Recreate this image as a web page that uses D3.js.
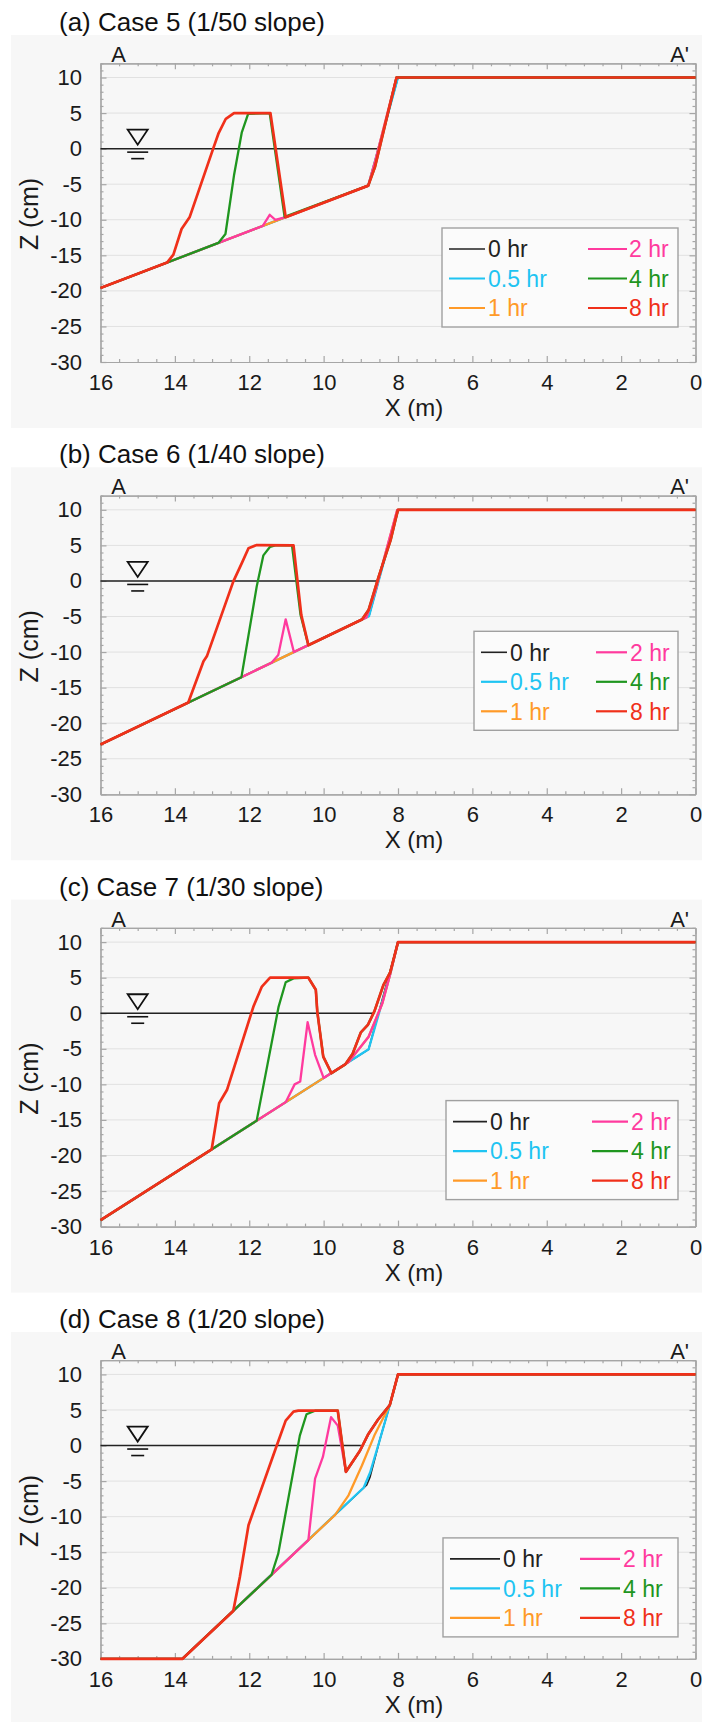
<!DOCTYPE html>
<html>
<head>
<meta charset="utf-8">
<script src="https://cdn.jsdelivr.net/npm/d3@7"></script>
<style>
body { margin: 0; background: #ffffff; }
text { font-family: "Liberation Sans", Arial, Helvetica, sans-serif; }
</style>
</head>
<body>
<div id="container"></div>
<script>
//tick labels
var xTicks = [16, 14, 12, 10, 8, 6, 4, 2, 0];
var zTicks = [-30, -25, -20, -15, -10, -5, 0, 5, 10];

//panel titles + legend labels
var panelTitles = ["(a) Case 5 (1/50 slope)", "(b) Case 6 (1/40 slope)", "(c) Case 7 (1/30 slope)", "(d) Case 8 (1/20 slope)"];
var hourLabels = ["0 hr", "0.5 hr", "1 hr", "2 hr", "4 hr", "8 hr"];

//profiles [x (m), z (cm)]
//case 5 (1/50 slope)
var case5_0hr  = [[16,-19.6],[8.8,-5.2],[8.0,10],[0,10]];
var case5_05hr = [[16,-19.6],[8.8,-5.2],[8.0,10],[0,10]];
var case5_1hr  = [[16,-19.6],[8.8,-5.2],[8.6,-1.5],[8.04,10],[0,10]];
var case5_2hr  = [[16,-19.6],[11.64,-10.88],[11.45,-9.3],[11.3,-10.0],[11.02,-9.64],[8.8,-5.2],[8.6,-1.5],[8.04,10],[0,10]];
var case5_4hr  = [[16,-19.6],[12.83,-13.26],[12.64,-12.0],[12.41,-3.75],[12.2,2.3],[12.03,4.9],[11.45,5.0],[11.05,-9.6],[8.8,-5.2],[8.62,-2.6],[8.04,10],[0,10]];
var case5_8hr  = [[16,-19.6],[14.21,-16.02],[14.04,-14.9],[13.82,-11.3],[13.6,-9.6],[12.97,0],[12.83,2.1],[12.63,4.2],[12.41,5.0],[11.43,5.0],[11.02,-9.64],[8.8,-5.2],[8.62,-2.6],[8.04,10],[0,10]];

//case 6 (1/40 slope)
var case6_0hr  = [[16,-23],[8.78,-4.95],[8.0,10],[0,10]];
var case6_05hr = [[16,-23],[8.78,-4.95],[8.0,10],[0,10]];
var case6_1hr  = [[16,-23],[8.85,-5.12],[8.6,-1.2],[8.02,10],[0,10]];
var case6_2hr  = [[16,-23],[11.4,-11.5],[11.22,-10.4],[11.02,-5.4],[10.8,-10.0],[8.85,-5.12],[8.6,-1.2],[8.02,10],[0,10]];
var case6_4hr  = [[16,-23],[12.21,-13.53],[11.8,-0.8],[11.62,3.6],[11.44,4.8],[11.3,5.0],[10.85,5.0],[10.62,-4.8],[10.41,-9.03],[8.97,-5.43],[8.79,-4.07],[8.52,0.6],[8.2,5.7],[8.0,10],[0,10]];
var case6_8hr  = [[16,-23],[13.64,-17.1],[13.23,-11.3],[13.14,-10.6],[12.43,-0.1],[12.2,2.5],[12.02,4.6],[11.8,5.05],[10.81,5.0],[10.6,-4.8],[10.41,-9.03],[8.97,-5.43],[8.79,-4.07],[8.52,0.6],[8.2,5.7],[8.07,8.55],[8.0,10],[0,10]];

//case 7 (1/30 slope)
var case7_0hr  = [[16,-29.1],[8.79,-5.07],[8.0,10],[0,10]];
var case7_05hr = [[16,-29.1],[8.79,-5.07],[8.21,5.5],[8.0,10],[0,10]];
var case7_1hr  = [[16,-29.1],[9.33,-6.87],[8.79,-3.3],[8.42,1.4],[8.21,5.5],[8.0,10],[0,10]];
var case7_2hr  = [[16,-29.1],[11.02,-12.5],[10.78,-10.0],[10.63,-9.6],[10.43,-1.26],[10.23,-5.85],[10.0,-9.1],[9.33,-6.87],[8.79,-3.3],[8.42,1.4],[8.21,5.5],[8.0,10],[0,10]];
var case7_4hr  = [[16,-29.1],[11.8,-15.1],[11.21,0.94],[11.02,4.36],[10.81,4.9],[10.41,5.0],[10.21,3.3],[10.17,0.2],[10.01,-6.1],[9.79,-8.43],[9.42,-7.2],[9.22,-5.7],[9.0,-2.7],[8.81,-1.64],[8.63,0.33],[8.39,4.0],[8.21,5.76],[8.0,10],[0,10]];
var case7_8hr  = [[16,-29.1],[13.01,-19.13],[12.81,-12.65],[12.6,-10.8],[11.89,0.9],[11.66,3.75],[11.44,5.0],[10.41,5.0],[10.21,3.3],[10.17,0.2],[10.01,-6.1],[9.79,-8.43],[9.42,-7.2],[9.22,-5.7],[9.0,-2.7],[8.81,-1.64],[8.63,0.33],[8.39,4.0],[8.21,5.76],[8.0,10],[0,10]];

//case 8 (1/20 slope)
var case8_0hr  = [[16,-30],[13.8,-30],[8.84,-5.55],[8.75,-4.4],[8.5,0.6],[8.22,5.7],[8.0,10],[0,10]];
var case8_05hr = [[16,-30],[13.8,-30],[8.92,-5.9],[8.75,-3.8],[8.5,0.6],[8.22,5.7],[8.0,10],[0,10]];
var case8_1hr  = [[16,-30],[13.8,-30],[9.69,-9.74],[9.33,-7.0],[8.97,-2.8],[8.62,1.6],[8.22,5.7],[8.0,10],[0,10]];
var case8_2hr  = [[16,-30],[13.8,-30],[10.41,-13.29],[10.23,-4.66],[10.02,-1.6],[9.8,4.0],[9.62,2.8],[9.4,-3.7],[9.02,-0.7],[8.8,1.6],[8.53,3.7],[8.22,5.7],[8.0,10],[0,10]];
var case8_4hr  = [[16,-30],[13.8,-30],[11.4,-18.17],[11.22,-15.2],[10.64,1.4],[10.46,4.4],[10.23,4.9],[9.62,4.9],[9.4,-3.7],[9.02,-0.7],[8.8,1.6],[8.53,3.7],[8.22,5.7],[8.0,10],[0,10]];
var case8_8hr  = [[16,-30],[13.8,-30],[12.43,-23.25],[12.25,-18.4],[12.02,-11.2],[11.26,0],[11.02,3.5],[10.81,4.76],[10.68,4.9],[9.62,4.9],[9.4,-3.7],[9.02,-0.7],[8.8,1.6],[8.53,3.7],[8.22,5.7],[8.0,10],[0,10]];

//still water level: line from x=16 to the seawall, symbol at x=15
var waterLevel = 0;
var waterEnd = [8.5, 8.57, 8.66, 9.0];
var waterSymbolX = 15;

var panelProfiles = [
    [case5_0hr, case5_05hr, case5_1hr, case5_2hr, case5_4hr, case5_8hr],
    [case6_0hr, case6_05hr, case6_1hr, case6_2hr, case6_4hr, case6_8hr],
    [case7_0hr, case7_05hr, case7_1hr, case7_2hr, case7_4hr, case7_8hr],
    [case8_0hr, case8_05hr, case8_1hr, case8_2hr, case8_4hr, case8_8hr]
];

//layout
var width = 702, height = 1722;
var panelStep = 432.3;
var plot = {left: 100.5, right: 695.5, top: 63.3, bottom: 362};
var colors = ["#222222", "#1fc4f2", "#ff9a28", "#ff3a9e", "#1f961f", "#f0301a"];
var lineWidths = [1.6, 2.3, 2.3, 2.3, 2.3, 2.7];
var frameColor = "#a6a6a6";

//legend placement per panel (box + columns), panel coordinates
var legendLayout = [
    {x0: 442, x1: 678, top: 228, l1: [449, 485], t1: 488, l2: [588, 627], t2: 629},
    {x0: 474, x1: 678, top: 199, l1: [481, 507], t1: 510, l2: [596, 627], t2: 630},
    {x0: 446, x1: 678, top: 236, l1: [453, 487], t1: 490, l2: [592, 628], t2: 631},
    {x0: 443, x1: 678, top: 241, l1: [450, 500], t1: 503, l2: [580, 620], t2: 623}
];

var x = d3.scaleLinear().domain([16, 0]).range([plot.left, plot.right]);
var y = d3.scaleLinear().domain([-30, 12]).range([plot.bottom, plot.top]);

var line = d3.line()
    .x(function(d) { return x(d[0]); })
    .y(function(d) { return y(d[1]); });

var svg = d3.select("#container")
    .append("svg")
    .attr("width", width)
    .attr("height", height);

function styleAxis(g) {
    g.attr("font-family", null).attr("font-size", null);
    g.select(".domain").attr("stroke", frameColor).attr("stroke-width", 1.2);
    g.selectAll(".tick line").attr("stroke", frameColor).attr("stroke-width", 1.2);
    g.selectAll(".tick text").attr("fill", "#1a1a1a").style("font-size", "22px");
}

function drawPanel(i) {
    var g = svg.append("g").attr("transform", "translate(0," + (i * panelStep) + ")");
    var profiles = panelProfiles[i];

    //panel background
    g.append("rect")
        .attr("x", 11).attr("y", 35)
        .attr("width", width - 11).attr("height", 393)
        .attr("fill", "#f7f7f7");

    //title
    g.append("text")
        .attr("x", 59).attr("y", 31)
        .style("font-size", "26px")
        .attr("fill", "#111")
        .text(panelTitles[i]);

    //horizontal grid
    g.append("g").selectAll("line")
        .data(zTicks.filter(function(d) { return d > -30; }))
        .enter().append("line")
        .attr("x1", plot.left).attr("x2", plot.right)
        .attr("y1", function(d) { return y(d); })
        .attr("y2", function(d) { return y(d); })
        .attr("stroke", "#e1e1e1")
        .attr("stroke-width", 1);

    var xMinor = d3.range(0, 16.01, 0.5).filter(function(d) { return d % 2 !== 0; });
    var zMinor = d3.range(-30, 12.01, 1).filter(function(d) { return d % 5 !== 0; });

    //bottom axis
    g.append("g").attr("transform", "translate(0," + plot.bottom + ")")
        .call(d3.axisBottom(x).tickValues(xTicks).tickSize(-6).tickSizeOuter(0).tickPadding(12.5).tickFormat(d3.format("d")))
        .call(styleAxis);
    g.append("g").attr("transform", "translate(0," + plot.bottom + ")")
        .call(d3.axisBottom(x).tickValues(xMinor).tickSize(-3).tickSizeOuter(0).tickFormat(""))
        .call(styleAxis);
    //top axis
    g.append("g").attr("transform", "translate(0," + plot.top + ")")
        .call(d3.axisTop(x).tickValues(xTicks).tickSize(-6).tickSizeOuter(0).tickFormat(""))
        .call(styleAxis);
    g.append("g").attr("transform", "translate(0," + plot.top + ")")
        .call(d3.axisTop(x).tickValues(xMinor).tickSize(-3).tickSizeOuter(0).tickFormat(""))
        .call(styleAxis);
    //left axis
    g.append("g").attr("transform", "translate(" + plot.left + ",0)")
        .call(d3.axisLeft(y).tickValues(zTicks).tickSize(-6).tickSizeOuter(0).tickPadding(18.5).tickFormat(d3.format("d")))
        .call(styleAxis);
    g.append("g").attr("transform", "translate(" + plot.left + ",0)")
        .call(d3.axisLeft(y).tickValues(zMinor).tickSize(-3).tickSizeOuter(0).tickFormat(""))
        .call(styleAxis);
    //right axis
    g.append("g").attr("transform", "translate(" + plot.right + ",0)")
        .call(d3.axisRight(y).tickValues(zTicks).tickSize(-6).tickSizeOuter(0).tickFormat(""))
        .call(styleAxis);
    g.append("g").attr("transform", "translate(" + plot.right + ",0)")
        .call(d3.axisRight(y).tickValues(zMinor).tickSize(-3).tickSizeOuter(0).tickFormat(""))
        .call(styleAxis);

    //minus sign as plain hyphen like the original
    g.selectAll(".tick text").text(function() { return this.textContent.replace("\u2212", "-"); });

    //axis titles
    g.append("text")
        .attr("transform", "translate(38," + 214 + ") rotate(-90)")
        .attr("text-anchor", "middle")
        .style("font-size", "25px")
        .attr("fill", "#1a1a1a")
        .text("Z (cm)");
    g.append("text")
        .attr("x", 414).attr("y", 416)
        .attr("text-anchor", "middle")
        .style("font-size", "24px")
        .attr("fill", "#1a1a1a")
        .text("X (m)");

    //section labels
    g.append("text")
        .attr("x", 118.5).attr("y", 62)
        .attr("text-anchor", "middle")
        .style("font-size", "22px")
        .attr("fill", "#1a1a1a")
        .text("A");
    g.append("text")
        .attr("x", 689).attr("y", 62)
        .attr("text-anchor", "end")
        .style("font-size", "22px")
        .attr("fill", "#1a1a1a")
        .text("A'");

    //still water level
    g.append("path")
        .attr("d", line([[16, waterLevel], [waterEnd[i], waterLevel]]))
        .attr("fill", "none")
        .attr("stroke", "#222")
        .attr("stroke-width", 1.5);

    var sx = x(waterSymbolX), sy = y(waterLevel);
    g.append("path")
        .attr("d", "M" + (sx - 10) + "," + (sy - 19) + "L" + (sx + 10) + "," + (sy - 19) + "L" + sx + "," + (sy - 4) + "Z")
        .attr("fill", "none")
        .attr("stroke", "#111")
        .attr("stroke-width", 1.8)
        .attr("stroke-linejoin", "miter");
    g.append("line")
        .attr("x1", sx - 10.5).attr("x2", sx + 10.5)
        .attr("y1", sy + 3.5).attr("y2", sy + 3.5)
        .attr("stroke", "#111").attr("stroke-width", 1.6);
    g.append("line")
        .attr("x1", sx - 6.5).attr("x2", sx + 6.5)
        .attr("y1", sy + 10).attr("y2", sy + 10)
        .attr("stroke", "#111").attr("stroke-width", 1.6);

    //profiles (0 hr first, 8 hr on top)
    g.append("g").selectAll("path")
        .data(profiles)
        .enter().append("path")
        .attr("d", function(d) { return line(d); })
        .attr("fill", "none")
        .attr("stroke", function(d, k) { return colors[k]; })
        .attr("stroke-width", function(d, k) { return lineWidths[k]; })
        .attr("stroke-linejoin", "round");

    //legend
    var L = legendLayout[i];
    var rowStep = 29.5;
    g.append("rect")
        .attr("x", L.x0).attr("y", L.top)
        .attr("width", L.x1 - L.x0).attr("height", 99)
        .attr("fill", "#fbfbfb")
        .attr("stroke", "#a0a0a0")
        .attr("stroke-width", 1.4);

    var items = g.append("g").selectAll("g")
        .data(hourLabels)
        .enter().append("g")
        .attr("transform", function(d, k) { return "translate(0," + (L.top + 21 + (k % 3) * rowStep) + ")"; });
    items.append("line")
        .attr("x1", function(d, k) { return k < 3 ? L.l1[0] : L.l2[0]; })
        .attr("x2", function(d, k) { return k < 3 ? L.l1[1] : L.l2[1]; })
        .attr("y1", 0).attr("y2", 0)
        .attr("stroke", function(d, k) { return colors[k]; })
        .attr("stroke-width", function(d, k) { return k === 0 ? 1.6 : 2.2; });
    items.append("text")
        .attr("x", function(d, k) { return k < 3 ? L.t1 : L.t2; })
        .attr("y", 0)
        .attr("dy", "0.36em")
        .style("font-size", "23px")
        .attr("fill", function(d, k) { return colors[k]; })
        .text(function(d) { return d; });
}

for (var i = 0; i < panelTitles.length; i++) {
    drawPanel(i);
}
</script>
</body>
</html>
